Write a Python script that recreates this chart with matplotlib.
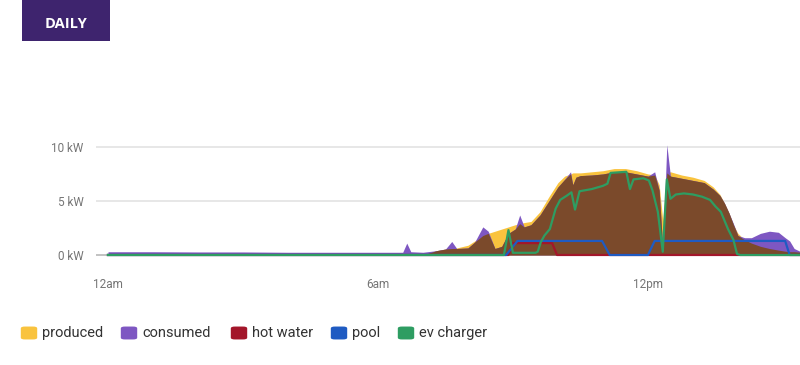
import numpy as np
import matplotlib
matplotlib.use("Agg")
import matplotlib.pyplot as plt
from matplotlib.patches import FancyBboxPatch, Rectangle

# ---------------- data (hours since midnight, kW) ----------------
hours = [0, 1, 2, 3, 4, 5, 6, 6.55, 6.64, 6.73, 7.0, 7.3, 7.5, 7.64, 7.75, 8.0,
         8.15, 8.33, 8.45, 8.6, 8.75, 8.9, 9.05, 9.15, 9.25, 9.4, 9.6, 9.8, 10.0,
         10.15, 10.28, 10.33, 10.4, 10.5, 10.75, 11.0, 11.25, 11.5, 11.75, 12.0,
         12.15, 12.25, 12.33, 12.42, 12.5, 12.75, 13.0, 13.25, 13.45, 13.6, 13.7,
         13.8, 13.9, 14.0, 14.15, 14.3, 14.5, 14.7, 14.9, 15.05, 15.15, 15.25, 15.4]
produced = [0, 0, 0, 0, 0, 0, 0, 0, 0, 0, 0, 0.4, 0.55, 0.6, 0.65, 0.9,
            1.3, 1.8, 2.0, 2.2, 2.4, 2.6, 2.8, 2.9, 3.0, 3.1, 4.0, 5.4, 6.7,
            7.3, 7.5, 7.6, 7.6, 7.6, 7.7, 7.8, 8.0, 8.0, 7.8, 7.5,
            7.4, 6.5, 3.2, 7.6, 7.7, 7.4, 7.2, 6.9, 6.3, 5.6, 4.8,
            3.9, 2.8, 2.0, 1.4, 1.1, 0.8, 0.6, 0.45, 0.35, 0.3, 0.3, 0.25]
consumed = [0.3, 0.3, 0.28, 0.28, 0.25, 0.25, 0.25, 0.25, 1.1, 0.3, 0.25, 0.4, 0.55, 1.25, 0.6, 0.65,
            1.2, 2.6, 2.2, 0.6, 0.8, 2.0, 2.4, 3.7, 2.6, 2.8, 3.7, 5.0, 6.3,
            7.0, 7.7, 6.5, 7.2, 7.35, 7.4, 7.5, 7.7, 7.7, 7.5, 7.3,
            7.7, 6.0, 0.5, 10.2, 7.3, 7.1, 6.9, 6.7, 6.1, 5.5, 4.8,
            3.9, 2.9, 1.8, 1.6, 1.6, 2.0, 2.2, 2.1, 1.6, 1.3, 0.6, 0.3]

hot_water_hours = [0, 8.9, 9.0, 9.87, 9.98, 15.4]
hot_water = [0, 0, 1.1, 1.1, 0, 0]

pool_hours = [0, 8.85, 9.1, 10.98, 11.15, 12.0, 12.15, 15.05, 15.15, 15.4]
pool = [0, 0, 1.3, 1.3, 0, 0, 1.3, 1.3, 0, 0]

ev_hours = [0, 8.8, 8.9, 9.0, 9.5, 9.55, 9.62, 9.7, 9.82, 9.95, 10.05, 10.2, 10.3,
            10.38, 10.48, 10.75, 11.0, 11.1, 11.17, 11.52, 11.6, 11.68, 11.9,
            12.02, 12.1, 12.22, 12.33, 12.42, 12.5, 12.62, 12.8, 13.0, 13.2,
            13.38, 13.5, 13.62, 13.78, 13.9, 13.98, 14.05, 15.4]
ev_charger = [0, 0, 2.3, 0.2, 0.2, 0.3, 1.2, 1.8, 2.4, 4.3, 5.1, 5.5, 5.8,
              4.2, 5.9, 6.1, 6.4, 6.6, 7.6, 7.7, 6.1, 7.0, 7.1,
              6.9, 6.0, 4.0, 0.3, 7.0, 5.2, 5.6, 5.7, 5.6, 5.4,
              5.1, 4.5, 4.0, 2.4, 1.4, 0.1, 0, 0]

y_ticks = [0, 5, 10]
y_tick_labels = ["0 kW", "5 kW", "10 kW"]
x_ticks = [0, 6, 12]
x_tick_labels = ["12am", "6am", "12pm"]
legend_labels = ["produced", "consumed", "hot water", "pool", "ev charger"]

# ---------------- style ----------------
C_PROD = "#F9C33E"
C_CONS = "#7E57C2"
C_BOTH = "#7B4A2B"
C_HOT = "#A3162A"
C_POOL = "#1F5BC2"
C_EV = "#2E9D62"
legend_colors = [C_PROD, C_CONS, C_HOT, C_POOL, C_EV]
GRAY = "#757575"

plt.rcParams['font.family'] = ['Roboto', 'DejaVu Sans']

W, H = 800, 365
fig = plt.figure(figsize=(W / 100, H / 100), dpi=100)

def fx(px):
    return px / W

def fy(py):
    return 1 - py / H

ax = fig.add_axes([fx(96), fy(258), fx(800) - fx(96), fy(130) - fy(258)])
ax.set_xlim(-0.267, 15.38)
ax.set_ylim(-0.28, 11.57)

h = np.array(hours)
p = np.array(produced)
c = np.array(consumed)
both = np.minimum(p, c)

ax.fill_between(h, 0, p, color=C_PROD, lw=0, zorder=2)
ax.fill_between(h, 0, c, color=C_CONS, lw=0, zorder=3)
ax.fill_between(h, 0, both, color=C_BOTH, lw=0, zorder=4)

ax.plot(hot_water_hours, hot_water, color=C_HOT, lw=1.6, zorder=5, solid_joinstyle="round")
ax.plot(pool_hours, pool, color=C_POOL, lw=1.6, zorder=6, solid_joinstyle="round")
ax.plot(ev_hours, ev_charger, color=C_EV, lw=1.6, zorder=7, solid_joinstyle="round")

for yt in y_ticks:
    ax.axhline(yt, color="#e3e3e3" if yt else "#b8b8b8", lw=1.2, zorder=1)

for s in ax.spines.values():
    s.set_visible(False)
ax.set_yticks(y_ticks)
ax.set_yticklabels(y_tick_labels, color=GRAY, fontsize=8.5)
ax.set_xticks(x_ticks)
ax.set_xticklabels(x_tick_labels, color=GRAY, fontsize=8.5)
ax.tick_params(axis="both", length=0)
ax.tick_params(axis="y", pad=9)
ax.tick_params(axis="x", pad=14.5)

# title box
fig.patches.append(Rectangle((fx(22), fy(41)), fx(110) - fx(22), fy(0) - fy(41),
                             transform=fig.transFigure, color="#3E246E", lw=0))
fig.text(fx(66), fy(24), "DAILY", color="white", fontsize=10.5, fontweight="bold",
         ha="center", va="center", family=["Open Sans", "DejaVu Sans"])

# legend
legend_x = [21, 121, 231, 331, 398]
for lx, lab, col in zip(legend_x, legend_labels, legend_colors):
    fig.patches.append(FancyBboxPatch((fx(lx + 3), fy(338)), fx(10), fy(0) - fy(10),
                                      boxstyle="round,pad=0.004,rounding_size=0.005",
                                      transform=fig.transFigure, color=col, lw=0))
    fig.text(fx(lx + 21), fy(333), lab, color="#333333", fontsize=10.5, ha="left", va="center")

fig.savefig("out.png", dpi=100)
